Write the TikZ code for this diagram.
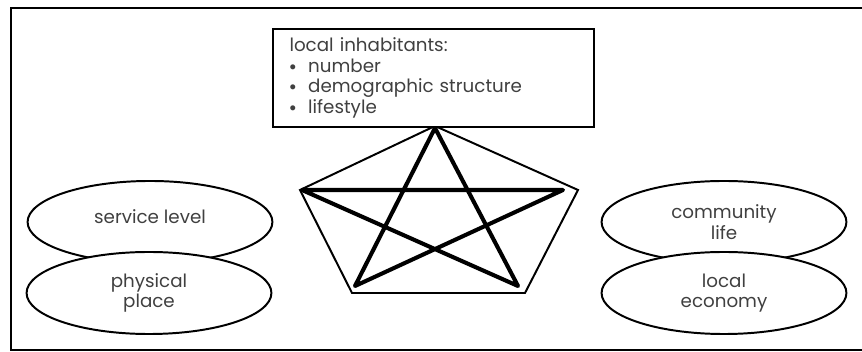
\documentclass[tikz,border=0pt]{standalone}
\usepackage{fontspec}
\setmainfont{Poppins}
\usetikzlibrary{shapes.geometric}

\begin{document}
\begin{tikzpicture}[x=0.025cm, y=-0.025cm, font=\fontsize{13}{14.6}\selectfont,
    oval/.style={draw, line width=1.4pt, fill=white, ellipse, minimum width=6.12cm, minimum height=2.05cm, inner sep=0pt, align=center, text=black!75}]
    \useasboundingbox (0,0) rectangle (862,352);
    % Frame
    \draw[line width=1.2pt] (11,8) rectangle (880,350);

    % Pentagon corners
    \coordinate (pt) at (435,126);
    \coordinate (pr) at (578,190);
    \coordinate (pbr) at (525,293);
    \coordinate (pbl) at (352,293);
    \coordinate (pl) at (300,190);
    \draw[line width=1.4pt] (pt) -- (pr) -- (pbr) -- (pbl) -- (pl) -- cycle;

    % Star
    \coordinate (st) at (435,128);
    \coordinate (sr) at (563,190);
    \coordinate (sbr) at (518,286);
    \coordinate (sbl) at (355,286);
    \coordinate (sl) at (302,190);
    \draw[line width=2.9pt, line join=round] (st) -- (sbl) -- (sr) -- (sl) -- (sbr) -- cycle;

    % Inhabitants box
    \node[draw, line width=1.3pt, fill=white, anchor=north west, minimum width=8.03cm, minimum height=2.45cm, text width=7.2cm, inner xsep=0.41cm, align=left, text=black!75] (inh) at (272,28) {local inhabitants:\\ \raisebox{0.2ex}{\small$\bullet$}\ \ number\\ \raisebox{0.2ex}{\small$\bullet$}\ \ demographic structure\\ \raisebox{0.2ex}{\small$\bullet$}\ \ lifestyle};

    % Left ovals
    \node[oval] (serv) at (150,222) {\raisebox{1.1ex}{service level}};
    \node[oval] (phys) at (149,293) {physical\\ place};

    % Right ovals
    \node[oval] (comm) at (724,222) {community\\ life};
    \node[oval] (econ) at (724,293) {local\\ economy};
  \end{tikzpicture}
\end{document}
